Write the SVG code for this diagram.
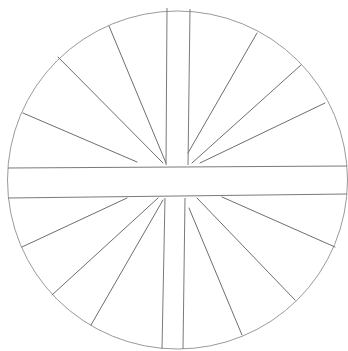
<svg xmlns="http://www.w3.org/2000/svg" width="348" height="351" viewBox="0 0 348 351">
<style>
.rim{fill:none;stroke:#9a9a9a;stroke-width:1}
.ln{fill:none;stroke:#6e6e6e;stroke-width:1;stroke-linecap:round}
.band{fill:none;stroke:#7a7a7a;stroke-width:1}
</style>
<rect width="348" height="351" fill="#ffffff"/>
<g id="circle"><ellipse class="rim" cx="177.5" cy="180" rx="170" ry="169"/></g>
<g id="bands">
<line class="band" x1="8" y1="168" x2="347" y2="166"/>
<line class="band" x1="8" y1="198" x2="347" y2="194"/>
<line class="band" x1="167" y1="8" x2="166" y2="165"/>
<line class="band" x1="190" y1="9" x2="188" y2="165"/>
<line class="band" x1="165" y1="198" x2="162" y2="349"/>
<line class="band" x1="185" y1="198" x2="183" y2="349"/>
</g>
<g id="connectors">
<line class="ln" x1="109" y1="26" x2="166" y2="163"/>
<line class="ln" x1="58" y1="57" x2="163" y2="163"/>
<line class="ln" x1="23" y1="113" x2="137" y2="162"/>
<line class="ln" x1="257" y1="33" x2="188" y2="153"/>
<line class="ln" x1="301" y1="65" x2="192" y2="163"/>
<line class="ln" x1="325" y1="103" x2="200" y2="163"/>
<line class="ln" x1="127" y1="198" x2="22" y2="247"/>
<line class="ln" x1="158" y1="198" x2="52" y2="295"/>
<line class="ln" x1="163" y1="200" x2="91" y2="325"/>
<line class="ln" x1="189" y1="208" x2="242" y2="335"/>
<line class="ln" x1="197" y1="198" x2="295" y2="300"/>
<line class="ln" x1="222" y1="197" x2="335" y2="247"/>
</g>
</svg>
